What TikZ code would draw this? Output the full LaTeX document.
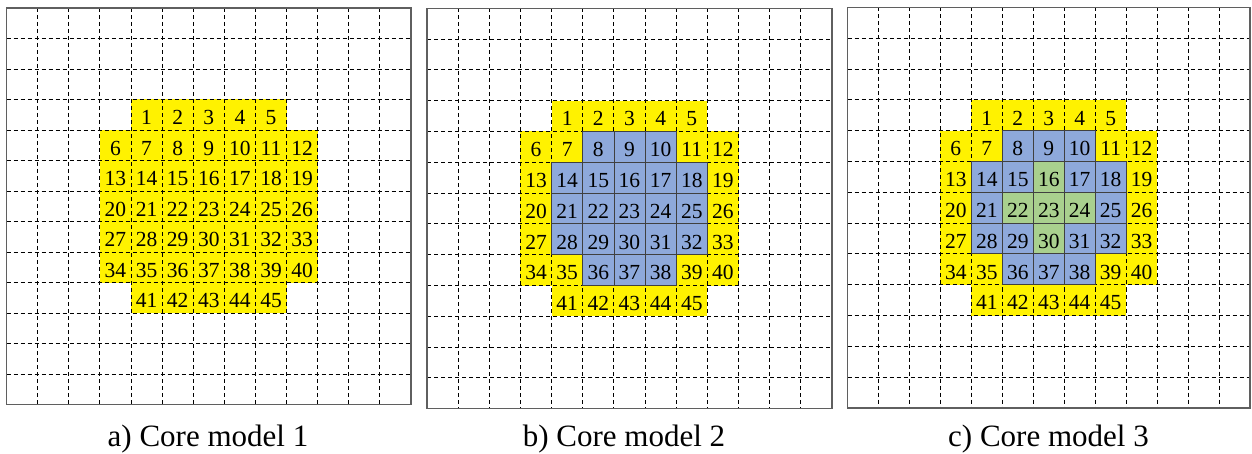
\documentclass[tikz,border=0pt]{standalone}
\usepackage{fontspec}
\setmainfont{Liberation Serif}
\definecolor{coreblue}{RGB}{142,169,219}
\definecolor{coregreen}{RGB}{169,208,142}
\definecolor{framegray}{RGB}{95,95,95}
\newcounter{pin}

\begin{document}
\begin{tikzpicture}[x=1pt,y=-1pt,
    yellowcell/.style={fill=yellow},
    bluecell/.style={fill=coreblue,draw=black!75,line width=0.8pt},
    greencell/.style={fill=coregreen,draw=black!75,line width=0.8pt},
    gridline/.style={draw=black,line width=0.9pt,dash pattern=on 4pt off 3pt},
    framebox/.style={draw=framegray,line width=1.2pt},
    pinno/.style={font=\fontsize{21.5}{21.5}\selectfont,anchor=base,inner sep=0pt},
    caption/.style={font=\fontsize{31}{31}\selectfont,anchor=base}]
  \useasboundingbox (0,0) rectangle (1252,454);
  \foreach \p/\px/\py/\cw/\ch/\lv/\cx in
      {a/6.5/8/31.12/30.5/1/208, b/427/8.3/31.15/30.8/2/624, c/847.5/7.5/30.96/30.8/3/1048.5}{
    \begin{scope}[shift={(\px,\py)},x=\cw pt,y=-\ch pt]
      % fuel assemblies
      \foreach \row/\first/\last in {3/4/8,4/3/9,5/3/9,6/3/9,7/3/9,8/3/9,9/4/8}
        \foreach \col in {\first,...,\last}
          \fill[yellowcell] (\col,\row) rectangle ++(1,1);
      \foreach \k in {1,...,12}{
        \draw[gridline] (\k,0) -- (\k,13);
        \draw[gridline] (0,\k) -- (13,\k);
      }
      \draw[framebox] (0,0) rectangle (13,13);
      % inner zones
      \ifnum\lv>1
        \foreach \row/\first/\last in {4/5/7,5/4/8,6/4/8,7/4/8,8/5/7}
          \foreach \col in {\first,...,\last}
            \draw[bluecell] (\col,\row) rectangle ++(1,1);
      \fi
      \ifnum\lv>2
        \foreach \row/\col in {5/6,6/5,6/6,6/7,7/6}
          \draw[greencell] (\col,\row) rectangle ++(1,1);
      \fi
      % numbering
      \setcounter{pin}{0}
      \foreach \row/\first/\last in {3/4/8,4/3/9,5/3/9,6/3/9,7/3/9,8/3/9,9/4/8}
        \foreach \col in {\first,...,\last}{
          \stepcounter{pin}
          \edef\n{\arabic{pin}}
          \node[pinno] (\p\n) at (\col+0.5,\row+0.82) {\n};
        }
    \end{scope}
    \node[caption] (cap\p) at (\cx,446.5) {\p) Core model \lv};
  }
\end{tikzpicture}
\end{document}
